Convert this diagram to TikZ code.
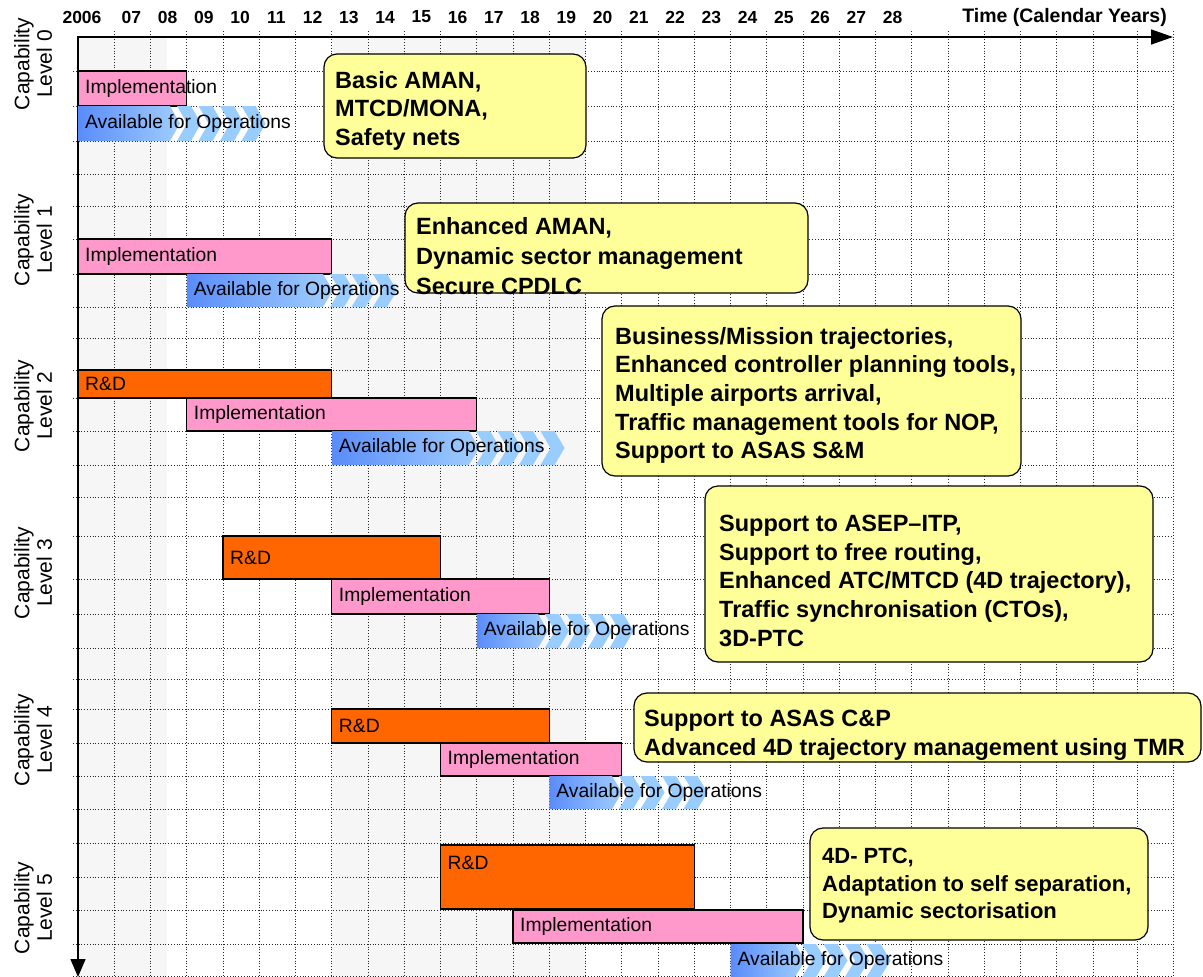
\documentclass[tikz,border=0pt]{standalone}
\usepackage{fontspec}
\setmainfont{Liberation Sans}
\usetikzlibrary{arrows.meta}

\definecolor{implpink}{RGB}{255,153,204}
\definecolor{rdorange}{RGB}{255,102,0}
\definecolor{notefill}{RGB}{255,255,153}
\definecolor{availdark}{RGB}{90,140,250}
\definecolor{availlight}{RGB}{160,206,255}
\definecolor{chevblue}{RGB}{153,204,255}
\definecolor{bandgray}{RGB}{246,246,246}

% x position of the start of calendar column k (k=0 is 2006)
\pgfmathdeclarefunction{yr}{1}{\pgfmathparse{78+36.25*#1}}

\tikzset{
  gridline/.style={draw=black!85, line width=0.8pt, dash pattern=on 0.9pt off 1.9pt},
  axisline/.style={draw=black, line width=1.4pt},
  implbar/.style={draw=black, line width=1.1pt, fill=implpink},
  rdbar/.style={draw=black, line width=1.1pt, fill=rdorange},
  bartext/.style={anchor=west, inner sep=0pt, font=\fontsize{19.3}{21}\selectfont},
  note/.style={draw=black, line width=1.2pt, fill=notefill, rounded corners=13pt},
  notetext/.style={anchor=north west, inner sep=0pt, align=left,
    font=\bfseries\fontsize{23.5}{28.6}\selectfont},
  yearlabel/.style={inner sep=0pt, font=\bfseries\fontsize{17.5}{18}\selectfont},
  levellabel/.style={inner sep=0pt, rotate=90, align=center,
    font=\fontsize{21}{22.5}\selectfont},
}

% task bar: name, style, first column, last column, top, bottom, text
\newcommand\taskbar[7]{%
  \draw[#2] ({yr(#3)},#5) rectangle ({yr(#4)},#6);
  \node[bartext] (#1) at ({yr(#3)+7},{(#5+#6)/2}) {#7};
}

% availability arrow: name, first column, tip x, top, bottom, last chevron index
\newcommand\availbar[6]{%
  \pgfmathsetmacro\avmid{(#4+#5)/2}%
  \pgfmathsetmacro\avhalf{(#5-#4)/2}%
  \pgfmathsetmacro\avend{#3}%
  \shade[left color=availdark, right color=availlight]
    ({yr(#2)},#4) -- ({\avend-10},#4) -- (\avend,\avmid)
    -- ({\avend-10},#5) -- ({yr(#2)},#5) -- cycle;
  \foreach \c in {0,...,#6}{
    \fill[chevblue] ({\avend-3+21.5*\c},#4) -- ++(14,0) -- ++(10,\avhalf)
      -- ++(-10,\avhalf) -- ++(-14,0) -- ++(10,-\avhalf) -- cycle;
  }
  \node[bartext] (#1) at ({yr(#2)+7},\avmid) {Available for Operations};
}

\begin{document}
\begin{tikzpicture}[x=1pt,y=-1pt]
\useasboundingbox (0,0) rectangle (1203,977);

% shaded background bands
\fill[bandgray] (78,37) rectangle (167,977);
\fill[bandgray] ({yr(7)},37) rectangle ({yr(14)},977);

% dotted grid
\foreach \k in {1,...,28}{
  \draw[gridline] ({yr(\k)},31) -- ({yr(\k)},977);
}
\draw[gridline] (1137,31) -- (1137,977);
\draw[gridline] (1173,31) -- (1173,977);
\foreach \y in {71,106,141,174,206,239,274,307,338,370,398,431,465,497,536,579,614,648,679,709,743,776,809,843,877,910,944,976}{
  \draw[gridline] (73,\y) -- (1173,\y);
}

% axes
\coordinate (origin) at (78,37);
\coordinate (timeend) at (1173,37);
\coordinate (levelend) at (78,977);
\draw[axisline, -{Triangle[length=22pt,width=15pt]}] (origin) -- (timeend);
\draw[axisline, -{Triangle[length=18pt,width=15pt]}] (78,36) -- (levelend);

% year labels
\node[yearlabel] (y2006) at (82,17) {2006};
\foreach \k/\lab in {1/07,2/08,3/09,4/10,5/11,6/12,7/13,8/14,9/15,10/16,11/17,12/18,13/19,14/20,15/21,16/22,17/23,18/24,19/25,20/26,21/27,22/28}{
  \node[yearlabel] (y\lab) at ({yr(\k+0.5)-1},17) {\lab};
}
\node[yearlabel, anchor=east, font=\bfseries\fontsize{19.5}{20}\selectfont] (timelabel) at (1167,17) {Time (Calendar Years)};

% capability level labels
\node[levellabel] (lev0) at (33,64) {Capability\\Level 0};
\node[levellabel] (lev1) at (33,240) {Capability\\Level 1};
\node[levellabel] (lev2) at (33,406) {Capability\\Level 2};
\node[levellabel] (lev3) at (33,573) {Capability\\Level 3};
\node[levellabel] (lev4) at (33,740) {Capability\\Level 4};
\node[levellabel] (lev5) at (33,908) {Capability\\Level 5};

% Level 0
\taskbar{l0impl}{implbar}{0}{3}{71}{106}{Implementation}
\availbar{l0avail}{0}{180}{106}{141}{3}

% Level 1
\taskbar{l1impl}{implbar}{0}{7}{239}{274}{Implementation}
\availbar{l1avail}{3}{333}{274}{307}{2}

% Level 2
\taskbar{l2rd}{rdbar}{0}{7}{370}{398}{R\&D}
\taskbar{l2impl}{implbar}{3}{11}{398}{431}{Implementation}
\availbar{l2avail}{7}{479}{431}{465}{3}

% Level 3
\taskbar{l3rd}{rdbar}{4}{10}{536}{579}{R\&D}
\taskbar{l3impl}{implbar}{7}{13}{579}{614}{Implementation}
\availbar{l3avail}{11}{548}{614}{648}{3}

% Level 4
\taskbar{l4rd}{rdbar}{7}{13}{709}{743}{R\&D}
\taskbar{l4impl}{implbar}{10}{15}{743}{776}{Implementation}
\availbar{l4avail}{13}{622}{776}{809}{3}

% Level 5 (the R&D bar is two rows high, its label sits near the top)
\draw[rdbar] ({yr(10)},845) rectangle ({yr(17)},909);
\node[bartext] (l5rd) at ({yr(10)+7},863) {R\&D};
\taskbar{l5impl}{implbar}{12}{20}{910}{943}{Implementation}
\availbar{l5avail}{18}{805}{944}{977}{3}

% capability notes
\draw[note] (324,54) rectangle (586,158);
\node[notetext] (n0) at (335,71) {Basic AMAN,\\MTCD/MONA,\\Safety nets};

\draw[note] (405,203) rectangle (808,293);
\node[notetext, font=\bfseries\fontsize{23.5}{30}\selectfont] (n1) at (416,217) {Enhanced AMAN,\\Dynamic sector management\\Secure CPDLC};

\draw[note] (602,306) rectangle (1021,476);
\node[notetext] (n2) at (615,327) {Business/Mission trajectories,\\Enhanced controller planning tools,\\Multiple airports arrival,\\Traffic management tools for NOP,\\Support to ASAS S\&M};

\draw[note] (705,486) rectangle (1153,662);
\node[notetext] (n3) at (719,515) {Support to ASEP--ITP,\\Support to free routing,\\Enhanced ATC/MTCD (4D trajectory),\\Traffic synchronisation (CTOs),\\3D-PTC};

\draw[note] (634,693) rectangle (1201,762);
\node[notetext] (n4) at (644,710) {Support to ASAS C\&P\\Advanced 4D trajectory management using TMR};

\draw[note] (810,828) rectangle (1148,940);
\node[notetext, font=\bfseries\fontsize{22}{27.5}\selectfont] (n5) at (822,848) {4D- PTC,\\Adaptation to self separation,\\Dynamic sectorisation};
\end{tikzpicture}
\end{document}
